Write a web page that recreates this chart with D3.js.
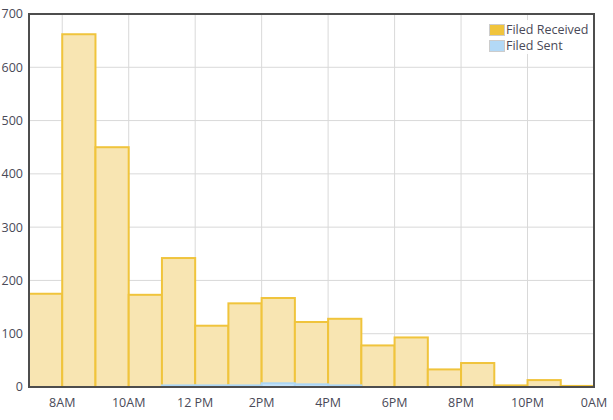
<!DOCTYPE html>
<html>
<head>
<meta charset="utf-8">
<script src="https://cdn.jsdelivr.net/npm/d3@7"></script>
<style>
    body { margin: 0; background: #fff; }
    text { font-family: "Open Sans", "Noto Sans", sans-serif; }
</style>
</head>
<body>
<div id="chart"></div>
<script>
// hour of day (start of bucket), 7 = 7AM ... 23 = 11PM
const hours = [7, 8, 9, 10, 11, 12, 13, 14, 15, 16, 17, 18, 19, 20, 21, 22, 23];
const filedReceived = [175, 662, 450, 173, 242, 115, 157, 167, 122, 128, 78, 93, 33, 45, 3, 13, 2];
const filedSent = [0, 0, 0, 0, 3, 3, 3, 7, 5, 3, 0, 0, 0, 0, 0, 0, 0];

const xTicks = [8, 10, 12, 14, 16, 18, 20, 22, 24];
const xTickLabels = ["8AM", "10AM", "12 PM", "2PM", "4PM", "6PM", "8PM", "10PM", "0AM"];
const yTicks = [0, 100, 200, 300, 400, 500, 600, 700];

const seriesNames = ["Filed Received", "Filed Sent"];

const width = 613;
const height = 420;
const margin = { top: 14, right: 19, bottom: 33, left: 29 };

const svg = d3.select("#chart")
    .append("svg")
    .attr("width", width)
    .attr("height", height);

const x = d3.scaleLinear()
    .domain([7, 24])
    .range([margin.left, width - margin.right]);

const y = d3.scaleLinear()
    .domain([0, 700])
    .range([height - margin.bottom, margin.top]);

// grid lines
svg.append("g")
    .selectAll("line.h")
    .data(yTicks)
    .enter()
    .append("line")
    .attr("x1", margin.left)
    .attr("x2", width - margin.right)
    .attr("y1", function(d) { return y(d); })
    .attr("y2", function(d) { return y(d); })
    .attr("stroke", "#d9d9d9")
    .attr("stroke-width", 1);

svg.append("g")
    .selectAll("line.v")
    .data(xTicks)
    .enter()
    .append("line")
    .attr("x1", function(d) { return x(d); })
    .attr("x2", function(d) { return x(d); })
    .attr("y1", margin.top)
    .attr("y2", height - margin.bottom)
    .attr("stroke", "#d9d9d9")
    .attr("stroke-width", 1);

// received bars
svg.append("g")
    .selectAll("rect")
    .data(hours)
    .enter()
    .append("rect")
    .attr("x", function(d) { return x(d); })
    .attr("width", function(d) { return x(d + 1) - x(d); })
    .attr("y", function(d, i) { return y(filedReceived[i]); })
    .attr("height", function(d, i) { return y(0) - y(filedReceived[i]); })
    .attr("fill", "#f8e5b2")
    .attr("stroke", "#f0c43c")
    .attr("stroke-width", 2);

// sent bars
svg.append("g")
    .selectAll("rect")
    .data(hours.filter(function(d, i) { return filedSent[i] > 0; }))
    .enter()
    .append("rect")
    .attr("x", function(d) { return x(d); })
    .attr("width", function(d) { return x(d + 1) - x(d); })
    .attr("y", function(d) { return y(filedSent[hours.indexOf(d)]); })
    .attr("height", function(d) { return y(0) - y(filedSent[hours.indexOf(d)]); })
    .attr("fill", "#c4e2f8")
    .attr("stroke", "#acd6f5")
    .attr("stroke-width", 2);

// frame
svg.append("rect")
    .attr("x", margin.left)
    .attr("y", margin.top)
    .attr("width", width - margin.left - margin.right)
    .attr("height", height - margin.top - margin.bottom)
    .attr("fill", "none")
    .attr("stroke", "#4d4d4d")
    .attr("stroke-width", 2);

// y labels
svg.append("g")
    .selectAll("text")
    .data(yTicks)
    .enter()
    .append("text")
    .attr("x", margin.left - 6)
    .attr("y", function(d) { return y(d); })
    .attr("dy", "0.35em")
    .attr("text-anchor", "end")
    .attr("font-size", 12.5)
    .attr("fill", "#4a4a58")
    .text(function(d) { return d; });

// x labels
svg.append("g")
    .selectAll("text")
    .data(xTicks)
    .enter()
    .append("text")
    .attr("x", function(d) { return x(d); })
    .attr("y", height - margin.bottom + 16)
    .attr("dy", "0.35em")
    .attr("text-anchor", "middle")
    .attr("font-size", 12.5)
    .attr("fill", "#4a4a58")
    .text(function(d, i) { return xTickLabels[i]; });

// legend
const legend = svg.append("g")
    .attr("transform", "translate(487,20)");

legend.append("rect")
    .attr("x", 0)
    .attr("y", 0)
    .attr("width", 104)
    .attr("height", 34)
    .attr("fill", "#fff")
    .attr("opacity", 0.9);

const legendColors = ["#f0c43c", "#b3d9f6"];

seriesNames.forEach(function(name, i) {
    legend.append("rect")
        .attr("x", 2.5)
        .attr("y", 4.5 + i * 16)
        .attr("width", 15)
        .attr("height", 11)
        .attr("fill", legendColors[i])
        .attr("stroke", "#ccc")
        .attr("stroke-width", 1);

    legend.append("text")
        .attr("x", 19)
        .attr("y", 10 + i * 16)
        .attr("dy", "0.35em")
        .attr("font-size", 12.5)
        .attr("fill", "#4a4a58")
        .text(name);
});
</script>
</body>
</html>
